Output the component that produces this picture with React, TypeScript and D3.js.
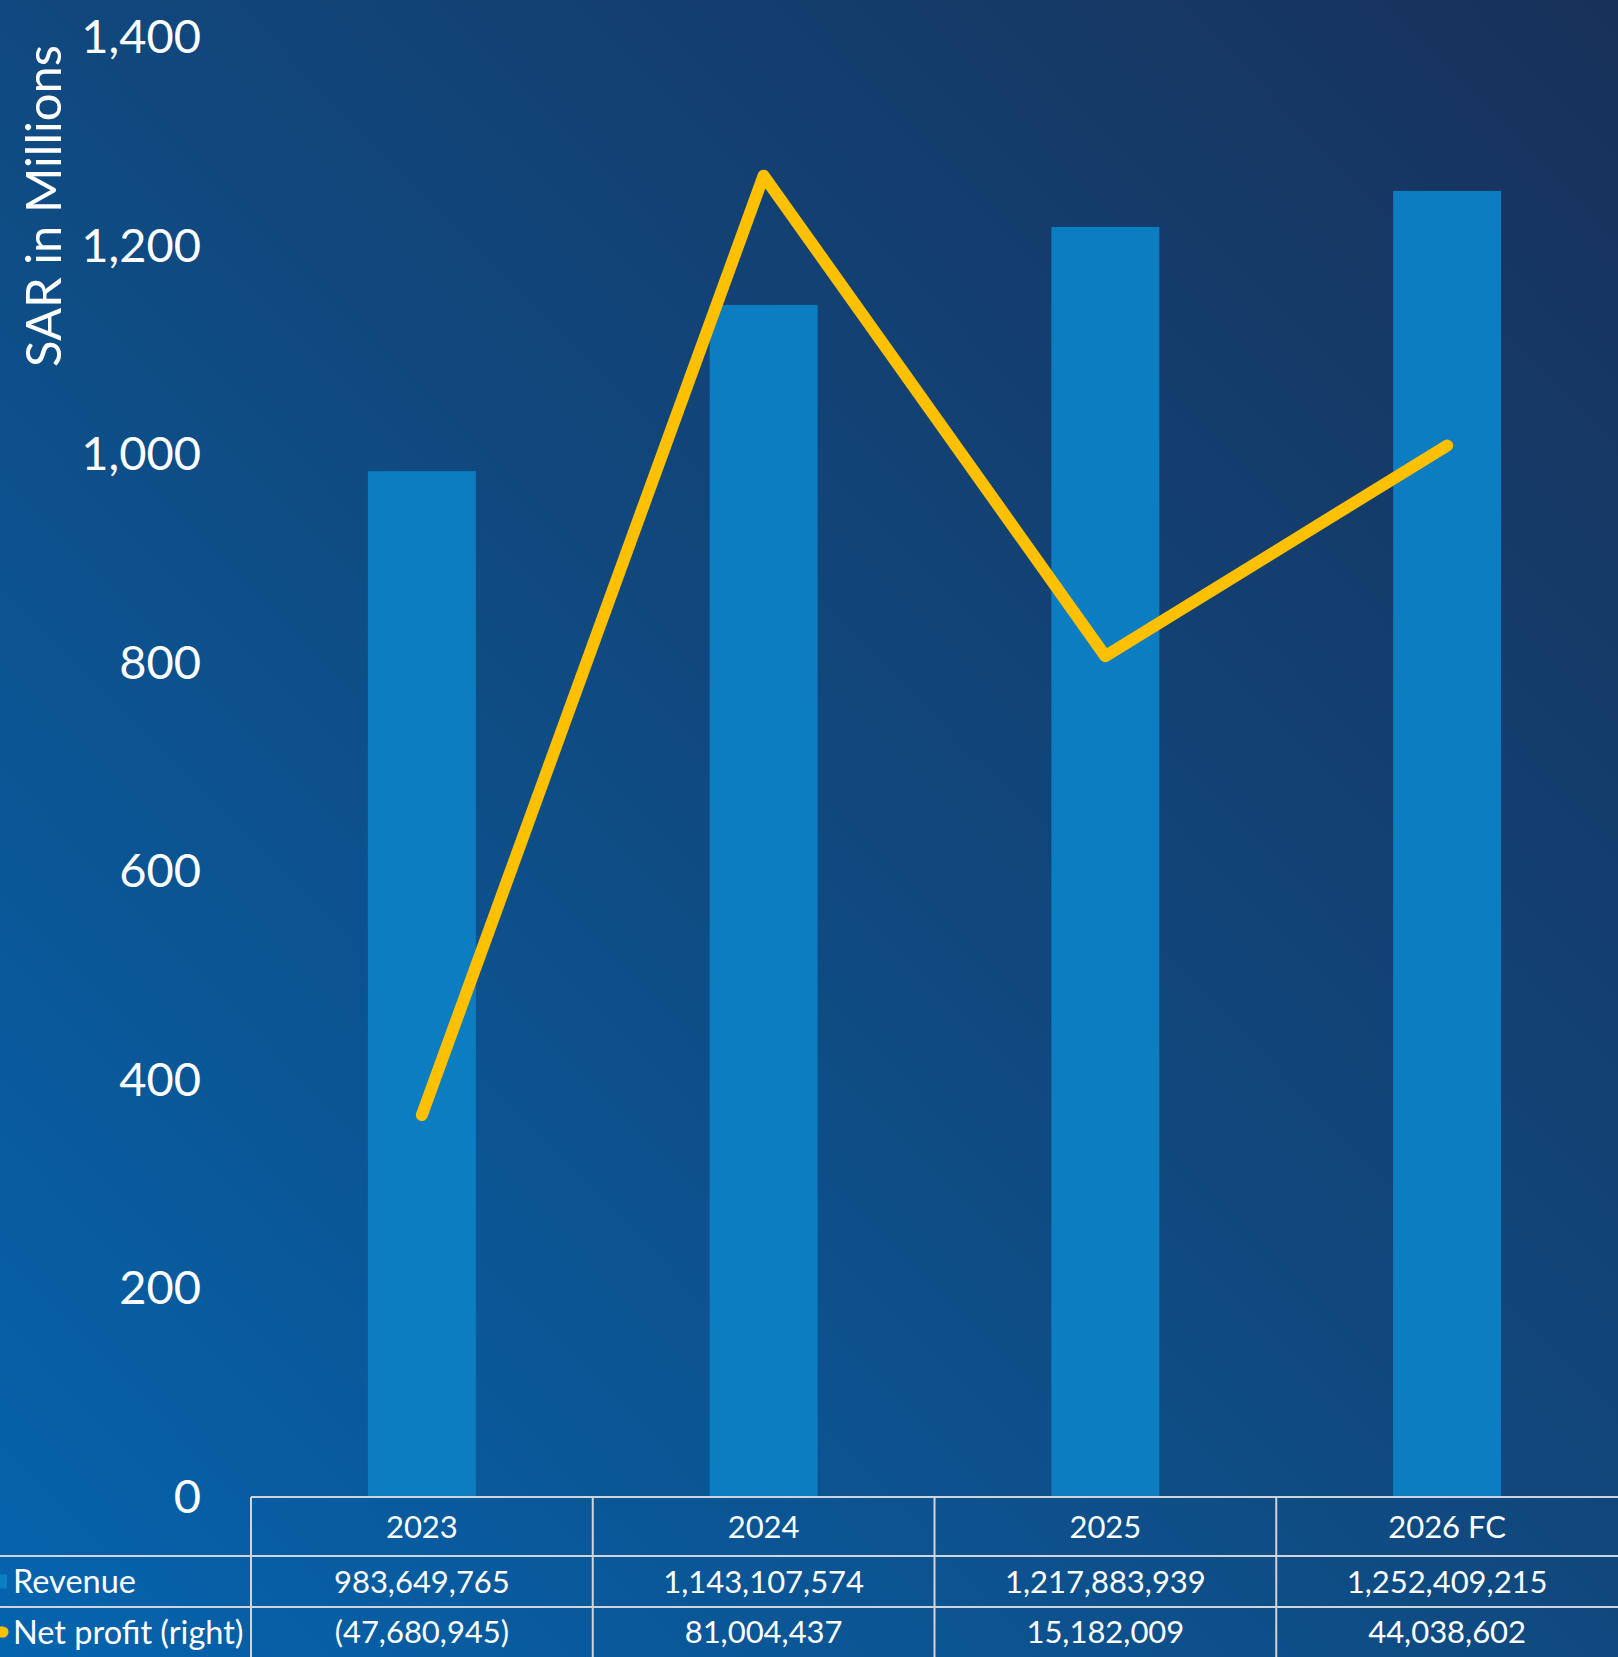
import * as d3 from "d3";
import { useLayoutEffect } from "react";

const YEARS = ["2023", "2024", "2025", "2026 FC"];
const REVENUE = [983649765, 1143107574, 1217883939, 1252409215];
const NET_PROFIT = [-47680945, 81004437, 15182009, 44038602];
const LEFT_TICKS = [0, 200, 400, 600, 800, 1000, 1200, 1400];

const W = 1618;
const H = 1657;
const PLOT_LEFT = 251;
const PLOT_TOP = 37;
const PLOT_BOTTOM = 1497;
const ROW_LINES = [1497, 1556, 1607, 1657];

const BAR_COLOR = "#0c7dc1";
const LINE_COLOR = "#ffc000";
const GRID_COLOR = "#d0d4da";
const FONT = "Lato, 'Open Sans', sans-serif";

const fmtNum = (v: number) =>
  v < 0 ? `(${d3.format(",")(-v)})` : d3.format(",")(v);

export default function App() {
  useLayoutEffect(() => {
    document.body.style.margin = "0";
  }, []);

  const x = d3
    .scaleBand<string>()
    .domain(YEARS)
    .range([PLOT_LEFT, W])
    .paddingInner(0.684)
    .paddingOuter(0.342);

  const yLeft = d3.scaleLinear().domain([0, 1400]).range([PLOT_BOTTOM, PLOT_TOP]);
  const yRight = d3.scaleLinear().domain([-100, 100]).range([PLOT_BOTTOM, PLOT_TOP]);

  const line = d3
    .line<number>()
    .x((_, i) => (x(YEARS[i]) ?? 0) + x.bandwidth() / 2)
    .y((d) => yRight(d / 1e6));

  const colEdges = YEARS.map((y) => (x(y) ?? 0) - (x.step() - x.bandwidth()) / 2);
  const rowMid = (i: number) => (ROW_LINES[i] + ROW_LINES[i + 1]) / 2;

  return (
    <svg
      width={W}
      height={H}
      style={{ position: "absolute", left: 0, top: 0, display: "block" }}
      fontFamily={FONT}
    >
      <defs>
        <linearGradient id="bg" x1="0" y1="1" x2="1" y2="0">
          <stop offset="0%" stopColor="#0564ae" />
          <stop offset="50%" stopColor="#10497f" />
          <stop offset="100%" stopColor="#18315a" />
        </linearGradient>
      </defs>
      <rect width={W} height={H} fill="url(#bg)" />

      {/* bars */}
      {REVENUE.map((v, i) => (
        <rect
          key={YEARS[i]}
          x={x(YEARS[i])}
          y={yLeft(v / 1e6)}
          width={x.bandwidth()}
          height={PLOT_BOTTOM - yLeft(v / 1e6)}
          fill={BAR_COLOR}
        />
      ))}

      {/* net profit line */}
      <path
        d={line(NET_PROFIT) ?? ""}
        fill="none"
        stroke={LINE_COLOR}
        strokeWidth={12}
        strokeLinecap="round"
        strokeLinejoin="round"
      />

      {/* left axis labels */}
      {LEFT_TICKS.map((t) => (
        <text
          key={t}
          x={201}
          y={yLeft(t) - 2}
          textAnchor="end"
          dominantBaseline="central"
          fill="white"
          fontSize={47}
        >
          {d3.format(",")(t)}
        </text>
      ))}

      <text
        transform={`translate(42, 206) rotate(-90)`}
        textAnchor="middle"
        dominantBaseline="central"
        fill="white"
        fontSize={49}
      >
        SAR in Millions
      </text>

      {/* data table */}
      <g stroke={GRID_COLOR} strokeWidth={2}>
        <line x1={PLOT_LEFT} x2={W} y1={ROW_LINES[0]} y2={ROW_LINES[0]} />
        <line x1={0} x2={W} y1={ROW_LINES[1]} y2={ROW_LINES[1]} />
        <line x1={0} x2={W} y1={ROW_LINES[2]} y2={ROW_LINES[2]} />
        {colEdges.map((cx, i) => (
          <line key={i} x1={cx} x2={cx} y1={ROW_LINES[0]} y2={H} />
        ))}
      </g>

      {YEARS.map((yr, i) => {
        const cx = (x(yr) ?? 0) + x.bandwidth() / 2;
        return (
          <g key={yr} fill="white" fontSize={31} textAnchor="middle">
            <text x={cx} y={rowMid(0) - 1} dominantBaseline="central">
              {yr}
            </text>
            <text x={cx} y={rowMid(1) - 1} dominantBaseline="central">
              {fmtNum(REVENUE[i])}
            </text>
            <text x={cx} y={rowMid(2) - 1} dominantBaseline="central">
              {fmtNum(NET_PROFIT[i])}
            </text>
          </g>
        );
      })}

      {/* legend keys */}
      <rect x={0} y={rowMid(1) - 7} width={7} height={14} fill={BAR_COLOR} />
      <line
        x1={-10}
        x2={3}
        y1={rowMid(2)}
        y2={rowMid(2)}
        stroke={LINE_COLOR}
        strokeWidth={11}
        strokeLinecap="round"
      />
      <text x={13} y={rowMid(1) - 1} dominantBaseline="central" fill="white" fontSize={32.5}>
        Revenue
      </text>
      <text x={13} y={rowMid(2) - 1} dominantBaseline="central" fill="white" fontSize={32.5}>
        Net profit (right)
      </text>
    </svg>
  );
}
